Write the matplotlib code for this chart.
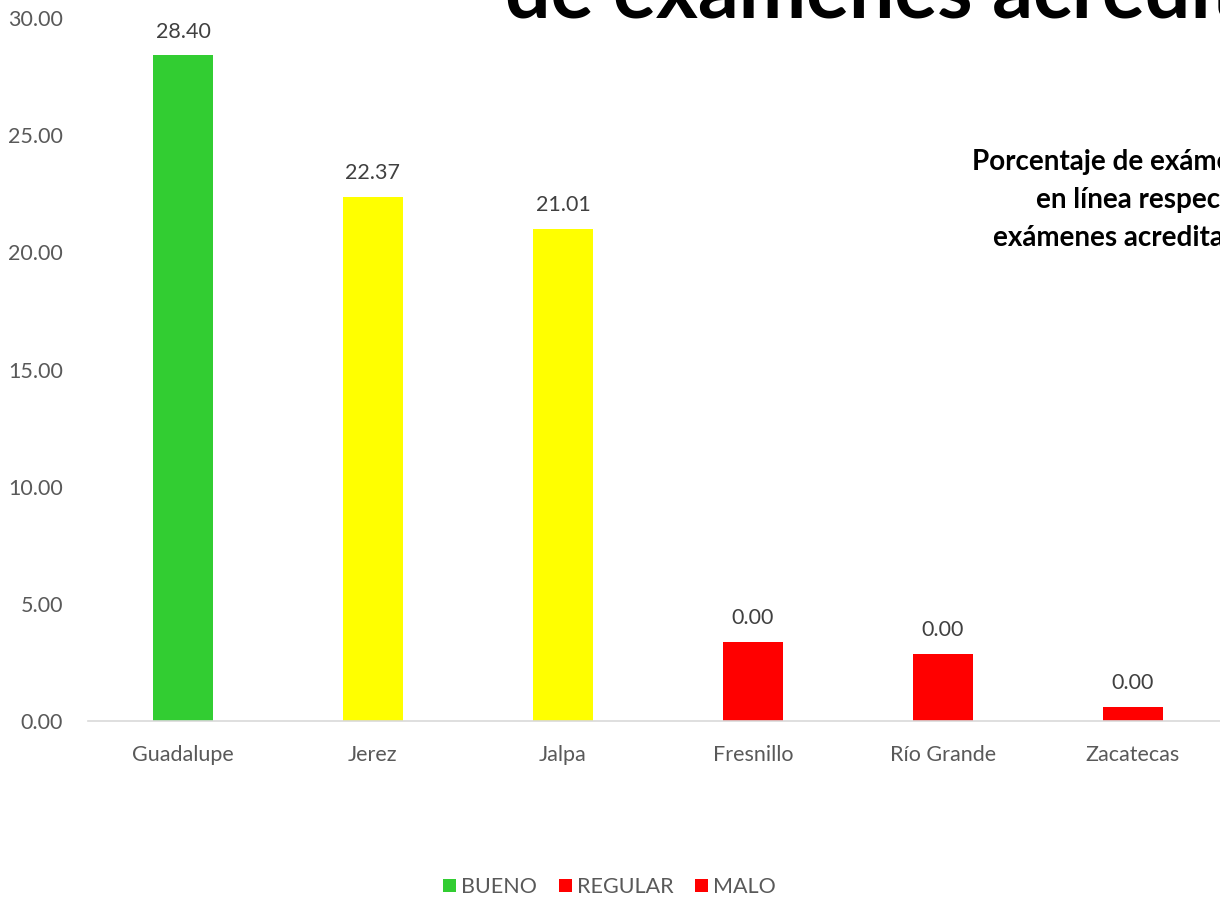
import matplotlib
matplotlib.use("Agg")
import matplotlib.pyplot as plt
from matplotlib.patches import Patch

# Data
categories = ["Guadalupe", "Jerez", "Jalpa", "Fresnillo", "Río Grande", "Zacatecas"]
bar_values = [28.40, 22.37, 21.01, 3.37, 2.85, 0.60]
label_values = [28.40, 22.37, 21.01, 0.00, 0.00, 0.00]
bar_colors = ["#32CD32", "#FFFF00", "#FFFF00", "#FF0000", "#FF0000", "#FF0000"]
yticks = [0, 5, 10, 15, 20, 25, 30]
legend_labels = ["BUENO", "REGULAR", "MALO"]
legend_colors = ["#32CD32", "#FF0000", "#FF0000"]

TEXT = "#595959"
plt.rcParams["font.family"] = ["Lato", "DejaVu Sans"]

W, H = 1220, 897
fig = plt.figure(figsize=(W / 100, H / 100), dpi=100)
ax = fig.add_axes([88 / W, (H - 721) / H, 1140 / W, 703 / H])

x = range(len(categories))
ax.bar(x, bar_values, width=0.32, color=bar_colors, zorder=2)

for xi, v, lab in zip(x, bar_values, label_values):
    ax.annotate(f"{lab:.2f}", (xi, v), xytext=(0, 10), textcoords="offset points",
                ha="center", va="bottom", fontsize=15.5, color="#404040")

ax.set_xlim(-0.5, len(categories) - 0.5)
ax.set_ylim(0, 30)
ax.set_yticks(yticks)
ax.set_yticklabels([f"{t:.2f}" for t in yticks])
ax.set_xticks(list(x))
ax.set_xticklabels(categories)
ax.tick_params(axis="both", length=0, labelsize=15.5, labelcolor=TEXT)
ax.tick_params(axis="x", pad=17)
ax.tick_params(axis="y", pad=18)
for s in ["top", "right", "left"]:
    ax.spines[s].set_visible(False)
ax.spines["bottom"].set_color("#D9D9D9")
ax.spines["bottom"].set_linewidth(1.2)

# Title (cut off by the top edge in the original)
fig.text(505 / W, 1 - 18 / H, "de exámenes acreditados", fontsize=58,
         fontweight="bold", color="black", ha="left", va="baseline")

# Text box on the right, clipped by the figure edge
box_lines = [("Porcentaje de exámenes", 972, 162),
             ("en línea respecto al total de", 1036, 200),
             ("exámenes acreditados", 993, 238)]
for txt, px, py in box_lines:
    fig.text(px / W, 1 - py / H, txt, fontsize=20, fontweight="bold",
             color="black", ha="left", va="center")

handles = [Patch(facecolor=c, edgecolor="none") for c in legend_colors]
fig.legend(handles, legend_labels, loc="center", bbox_to_anchor=(0.4996, 1 - 887 / H),
           ncol=3, frameon=False, fontsize=15.5, labelcolor=TEXT,
           handlelength=0.6, handleheight=0.6, handletextpad=0.25, columnspacing=1.0)

fig.savefig("out.png", dpi=100, facecolor="white")
